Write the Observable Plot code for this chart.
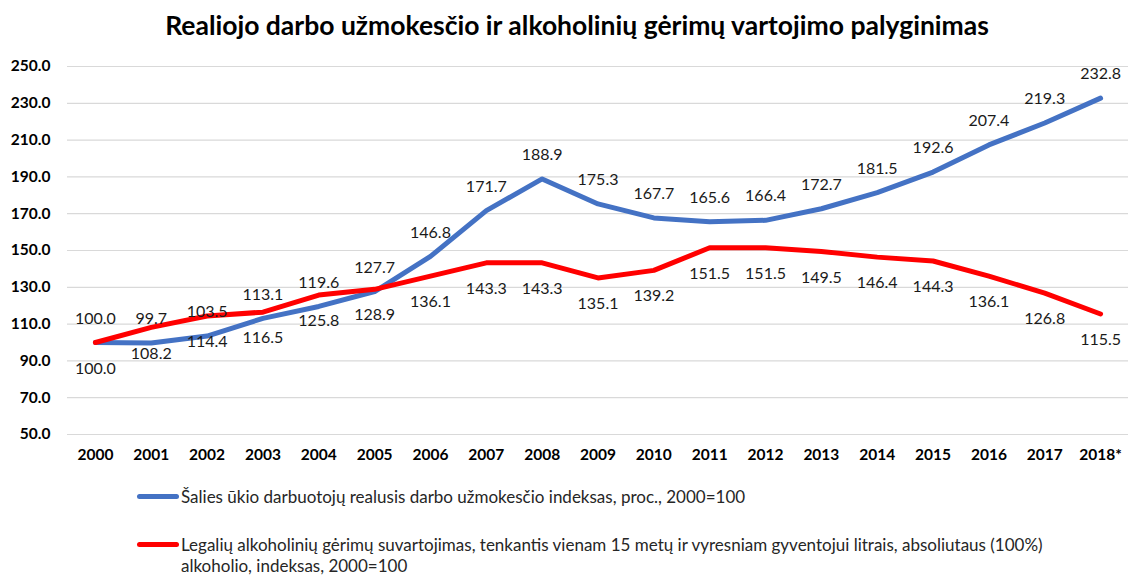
<!DOCTYPE html>
<html>
<head>
<meta charset="utf-8">
<script src="https://cdn.jsdelivr.net/npm/d3@7"></script>
<script src="https://cdn.jsdelivr.net/npm/@observablehq/plot@0.6"></script>
<style>
  body { margin: 0; background: #fff; font-family: Lato, "Open Sans", sans-serif; }
  #wrap { position: relative; width: 1128px; height: 576px; overflow: hidden; }
  #title { position: absolute; left: 13px; top: 9px; width: 1128px; text-align: center;
           font-weight: bold; font-size: 26.5px; color: #000; }
  #chart { position: absolute; left: 0; top: 40px; }
  .leg { position: absolute; left: 137px; font-size: 17px; color: #262626; line-height: 21px; }
  .leg .sw { position: absolute; left: 0; top: 8px; width: 42px; height: 5px; border-radius: 3px; }
  .leg .tx { margin-left: 44px; }
</style>
</head>
<body>
<div id="wrap">
  <div id="title">Realiojo darbo užmokesčio ir alkoholinių gėrimų vartojimo palyginimas</div>
  <div id="chart"></div>
  <div class="leg" style="top:486px"><div class="sw" style="background:#4472C4"></div><div class="tx">Šalies ūkio darbuotojų realusis darbo užmokesčio indeksas, proc., 2000=100</div></div>
  <div class="leg" style="top:534px"><div class="sw" style="background:#FF0000"></div><div class="tx">Legalių alkoholinių gėrimų suvartojimas, tenkantis vienam 15 metų ir vyresniam gyventojui litrais, absoliutaus (100%)<br>alkoholio, indeksas, 2000=100</div></div>
</div>
<script>
const years = ["2000","2001","2002","2003","2004","2005","2006","2007","2008","2009","2010","2011","2012","2013","2014","2015","2016","2017","2018*"];
const wageIndex = [100.0, 99.7, 103.5, 113.1, 119.6, 127.7, 146.8, 171.7, 188.9, 175.3, 167.7, 165.6, 166.4, 172.7, 181.5, 192.6, 207.4, 219.3, 232.8];
const alcoholIndex = [100.0, 108.2, 114.4, 116.5, 125.8, 128.9, 136.1, 143.3, 143.3, 135.1, 139.2, 151.5, 151.5, 149.5, 146.4, 144.3, 136.1, 126.8, 115.5];
const yTicks = [50, 70, 90, 110, 130, 150, 170, 190, 210, 230, 250];

const rows = years.map((year, i) => ({year, wage: wageIndex[i], alcohol: alcoholIndex[i]}));

const chart = Plot.plot({
  width: 1128,
  height: 425,
  marginLeft: 67,
  marginRight: 0,
  marginTop: 26,
  marginBottom: 31,
  style: {fontFamily: "Lato, 'Open Sans', sans-serif", fontSize: "15px", color: "#000", background: "#fff"},
  x: {type: "point", domain: years, padding: 0.5, round: false, label: null},
  y: {domain: [50, 250], label: null},
  marks: [
    Plot.gridY(yTicks, {stroke: "#d9d9d9", strokeOpacity: 1, strokeWidth: 1.2}),
    Plot.axisY(yTicks, {tickSize: 0, tickPadding: 17, tickFormat: d => d.toFixed(1), fontWeight: "bold", fontSize: 15.5, fill: "#000", label: null}),
    Plot.axisX({tickSize: 0, tickPadding: 14, fontWeight: "bold", fontSize: 15.5, fill: "#000", label: null}),
    Plot.line(rows, {x: "year", y: "wage", stroke: "#4472C4", strokeWidth: 5, strokeLinecap: "round", strokeLinejoin: "round"}),
    Plot.line(rows, {x: "year", y: "alcohol", stroke: "#FF0000", strokeWidth: 5, strokeLinecap: "round", strokeLinejoin: "round"}),
    Plot.text(rows, {x: "year", y: "wage", text: d => d.wage.toFixed(1), dy: -24, fontSize: 16, fill: "#1a1a1a"}),
    Plot.text(rows, {x: "year", y: "alcohol", text: d => d.alcohol.toFixed(1), dy: 26, fontSize: 16, fill: "#1a1a1a"})
  ]
});
document.getElementById("chart").appendChild(chart);
</script>
</body>
</html>
